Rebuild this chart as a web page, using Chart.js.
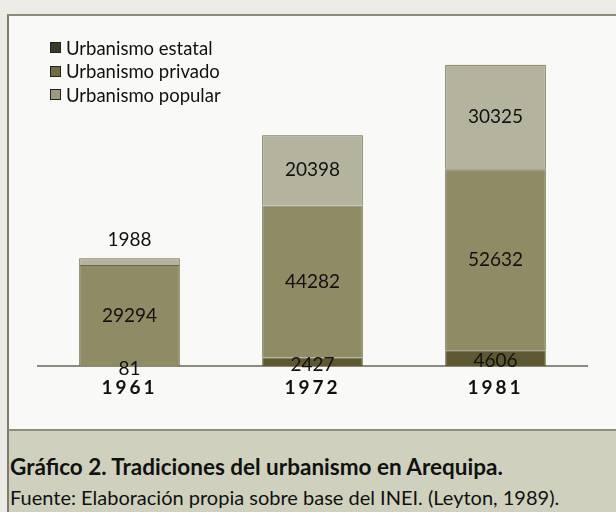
<!DOCTYPE html>
<html>
<head>
<meta charset="utf-8">
<script src="https://cdn.jsdelivr.net/npm/chart.js@4.4.0/dist/chart.umd.min.js"></script>
<style>
  html, body { margin:0; padding:0; }
  body { width:616px; height:512px; position:relative; overflow:hidden; background:#ecebe6; font-family: Lato, "Open Sans", sans-serif; }
  #box { position:absolute; left:7px; top:14px; width:609px; height:415px; background:#f9f9f7; border-top:2px solid #8f8c74; border-left:2px solid #7d7b6c; }
  #cap { position:absolute; left:7px; top:429px; width:609px; height:83px; background:#cfd1be; border-top:2px solid #8d8e7a; border-left:2px solid #7d7b6c; }
  #cap .t { position:absolute; left:1px; top:22px; font-weight:bold; font-size:22.5px; color:#111; white-space:nowrap; }
  #cap .s { position:absolute; left:1px; top:54px; font-size:20px; color:#111; white-space:nowrap; }
  #legend { position:absolute; left:50px; top:36px; }
  #legend div { height:23.5px; font-size:18.5px; color:#111; display:flex; align-items:center; white-space:nowrap; }
  #legend span.m { display:inline-block; width:9px; height:9px; border:1px solid #222; margin-right:5px; }
  canvas { position:absolute; left:0; top:0; }
</style>
</head>
<body>
<div id="box"></div>
<div id="cap">
  <div class="t">Gráfico 2. Tradiciones del urbanismo en Arequipa.</div>
  <div class="s">Fuente: Elaboración propia sobre base del INEI. (Leyton, 1989).</div>
</div>
<canvas id="c" width="616" height="512"></canvas>
<div id="legend"></div>
<script>
const categories = ["1961", "1972", "1981"];
const seriesNames = ["Urbanismo estatal", "Urbanismo privado", "Urbanismo popular"];
const estatal = [81, 2427, 4606];
const privado = [29294, 44282, 52632];
const popular = [1988, 20398, 30325];
const yMax = 100000;

const fills = ["#5e5832", "#8f8c65", "#b4b49e"];
const legendFills = ["#3a3a2a", "#6f6b45", "#9c9a80"];

const legend = document.getElementById('legend');
seriesNames.forEach((n, i) => {
  const d = document.createElement('div');
  d.innerHTML = '<span class="m" style="background:' + legendFills[i] + '"></span>' + n;
  legend.appendChild(d);
});

const labelPlugin = {
  id: 'segLabels',
  beforeDraw(chart) { chart.ctx.letterSpacing = '3px'; },
  beforeDatasetsDraw(chart) { chart.ctx.letterSpacing = '0px'; },
  afterDatasetsDraw(chart) {
    const ctx = chart.ctx;
    ctx.save();
    ctx.letterSpacing = '0px';
    ctx.font = '19px Lato, "Open Sans", sans-serif';
    ctx.fillStyle = '#111';
    ctx.textAlign = 'center';
    ctx.textBaseline = 'middle';
    chart.data.datasets.forEach((ds, di) => {
      const meta = chart.getDatasetMeta(di);
      meta.data.forEach((bar, i) => {
        const v = ds.data[i];
        const top = bar.y, bottom = bar.base;
        let y = (top + bottom) / 2;
        const h = bottom - top;
        if (di === 2 && h < 20) y = top - 18;
        if (di === 0) y = y + 3;
        ctx.fillText(String(v), bar.x, y);
      });
    });
    ctx.restore();
  }
};

new Chart(document.getElementById('c'), {
  type: 'bar',
  data: {
    labels: categories,
    datasets: [
      { label: seriesNames[0], data: estatal, backgroundColor: fills[0] },
      { label: seriesNames[1], data: privado, backgroundColor: fills[1] },
      { label: seriesNames[2], data: popular, backgroundColor: fills[2] }
    ].map(d => Object.assign(d, { borderColor: '#6b6644', borderWidth: 1, categoryPercentage: 1, barPercentage: 0.55 }))
  },
  options: {
    responsive: false,
    animation: false,
    layout: { padding: { left: 38, right: 29, top: 22, bottom: 103 } },
    plugins: { legend: { display: false }, tooltip: { enabled: false } },
    scales: {
      x: {
        stacked: true,
        grid: { display: false, drawTicks: false },
        border: { display: true, color: '#8a8a7e', width: 2 },
        ticks: { padding: 10, color: '#111', font: { family: 'Lato, "Open Sans", sans-serif', size: 19, weight: 'bold' } }
      },
      y: { stacked: true, display: false, min: 0, max: yMax }
    }
  },
  plugins: [labelPlugin]
});
</script>
</body>
</html>
